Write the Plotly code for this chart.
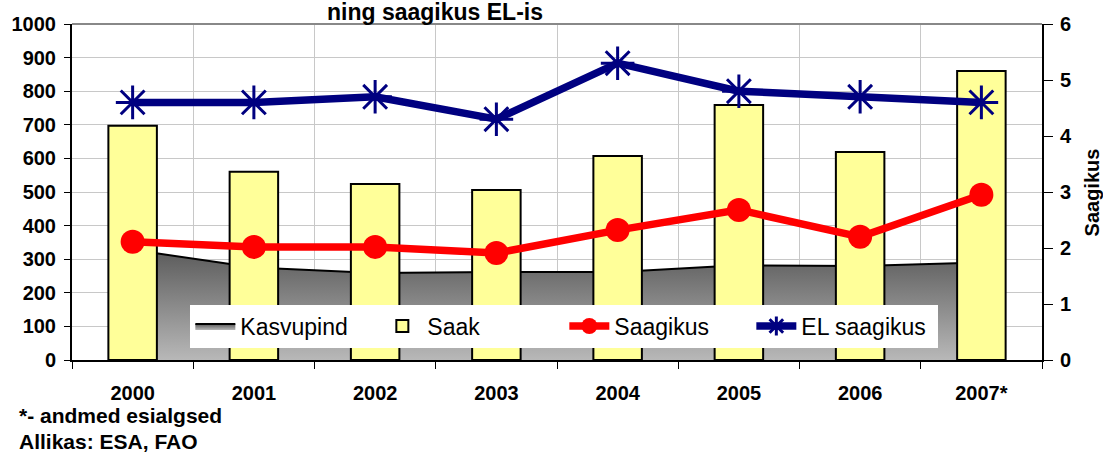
import plotly.graph_objects as go

years = ["2000", "2001", "2002", "2003", "2004", "2005", "2006", "2007*"]
kasvupind = [328, 275, 259, 262, 262, 282, 280, 290]
saak = [697, 560, 524, 506, 607, 759, 619, 860]
saagikus = [2.11, 2.02, 2.02, 1.91, 2.32, 2.68, 2.2, 2.95]
el_saagikus = [4.6, 4.6, 4.7, 4.3, 5.3, 4.8, 4.7, 4.6]

FONT = "Arial, Liberation Sans, sans-serif"

fig = go.Figure()

# area on the primary axis (drawn first, behind the bars)
fig.add_trace(go.Scatter(
    x=years, y=kasvupind, name="Kasvupind", mode="lines",
    line=dict(color="black", width=2),
    fill="tozeroy",
    fillgradient=dict(type="vertical", start=0, stop=330,
                      colorscale=[[0, "#b8b8b8"], [1, "#5a5a5a"]]),
    yaxis="y",
))

# bars on a hidden overlay axis so they sit above the area
fig.add_trace(go.Bar(
    x=years, y=saak, name="Saak", width=0.4,
    marker=dict(color="#ffff99", line=dict(color="black", width=2)),
    yaxis="y2",
))

fig.add_trace(go.Scatter(
    x=years, y=saagikus, name="Saagikus", mode="lines+markers",
    line=dict(color="#ff0000", width=7.5),
    marker=dict(color="#ff0000", size=24, symbol="circle"),
    yaxis="y3",
))

fig.add_trace(go.Scatter(
    x=years, y=el_saagikus, name="EL saagikus", mode="lines+markers",
    line=dict(color="#000080", width=7.5),
    marker=dict(color="#000080", size=28, symbol="asterisk-open",
                line=dict(color="#000080", width=3)),
    yaxis="y3",
))

tickfont = dict(family=FONT, size=20, color="black", weight="bold")

fig.update_layout(
    width=1103, height=452,
    margin=dict(l=72, r=61, t=24, b=92, autoexpand=False),
    paper_bgcolor="white", plot_bgcolor="white",
    font=dict(family=FONT, size=20, color="black"),
    showlegend=True,
    legend=dict(orientation="h", x=0.122, y=0.165, xanchor="left", yanchor="top",
                bgcolor="white", borderwidth=0,
                font=dict(family=FONT, size=23, color="black"),
                traceorder="normal", itemwidth=40,
                entrywidth=132, entrywidthmode="pixels"),
    xaxis=dict(type="category", tickson="boundaries", showgrid=True,
               gridcolor="#c8c8c8", gridwidth=1, automargin=False,
               showline=True, linecolor="black", linewidth=2,
               ticks="outside", ticklen=7, tickcolor="black",
               ticklabelstandoff=14, tickfont=tickfont,
               range=[-0.5, 7.5]),
    yaxis=dict(range=[0, 1000], dtick=100, showgrid=True,
               gridcolor="#c8c8c8", gridwidth=1, automargin=False,
               showline=True, linecolor="black", linewidth=2,
               ticks="outside", ticklen=6, tickcolor="black",
               ticklabelstandoff=4, tickfont=tickfont, zeroline=False),
    yaxis2=dict(range=[0, 1000], overlaying="y", visible=False),
    yaxis3=dict(range=[0, 6], dtick=1, overlaying="y", side="right",
                showgrid=False, zeroline=False, automargin=False,
                showline=True, linecolor="black", linewidth=2,
                ticks="outside", ticklen=9, tickcolor="black",
                ticklabelstandoff=3, tickfont=tickfont),
    shapes=[dict(type="line", xref="paper", yref="paper", x0=0, x1=1, y0=1, y1=1,
                 line=dict(color="#888888", width=2))],
    annotations=[
        dict(text="<b>ning saagikus EL-is</b>", xref="paper", yref="paper",
             x=0.374, y=1.036, xanchor="center", yanchor="middle",
             showarrow=False, font=dict(family=FONT, size=23)),
        dict(text="<b>Saagikus</b>", xref="paper", yref="paper",
             x=1.052, y=0.5, xanchor="center", yanchor="middle", textangle=-90,
             showarrow=False, font=dict(family=FONT, size=20)),
        dict(text="<b>*- andmed esialgsed</b>", xref="paper", yref="paper",
             x=-0.0567, y=-0.164, xanchor="left", yanchor="middle",
             showarrow=False, font=dict(family=FONT, size=21)),
        dict(text="<b>Allikas: ESA, FAO</b>", xref="paper", yref="paper",
             x=-0.0567, y=-0.243, xanchor="left", yanchor="middle",
             showarrow=False, font=dict(family=FONT, size=21)),
    ],
)

# drop the default page margin so the figure sits at the window's corner
fig.write_html("out.html", config={"displayModeBar": False},
               post_script="document.body.style.margin='0px';")
